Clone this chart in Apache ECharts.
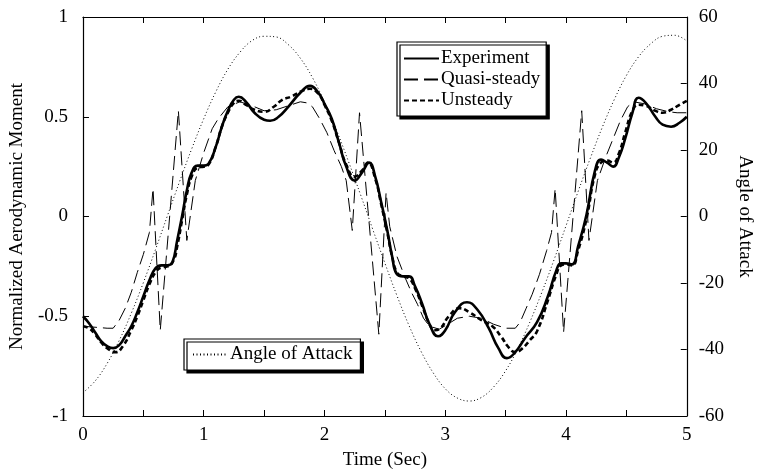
<!DOCTYPE html>
<html>
<head>
<meta charset="utf-8">
<script src="https://cdn.jsdelivr.net/npm/echarts@6/dist/echarts.min.js"></script>
<style>html,body{margin:0;padding:0;background:#fff}#c{width:762px;height:475px}</style>
</head>
<body>
<div id="c"></div>
<script>
// ---- data ----
const expTime = [0,0.05,0.1,0.15,0.2,0.25,0.3,0.35,0.4,0.45,0.5,0.55,0.6,0.65,0.7,0.74,0.78,0.82,0.86,0.9,0.95,1.0,1.04,1.1,1.15,1.2,1.25,1.29,1.35,1.42,1.5,1.55,1.62,1.7,1.8,1.88,1.95,2.0,2.06,2.12,2.18,2.25,2.31,2.37,2.42,2.47,2.52,2.56,2.6,2.65,2.7,2.75,2.81,2.87,2.94,3.0,3.08,3.18,3.27,3.36,3.44,3.51,3.58,3.66,3.76,3.85,3.92,3.96,4.0,4.05,4.1,4.17,4.24,4.29,4.34,4.39,4.44,4.49,4.55,4.6,4.66,4.74,4.8,4.87,4.94,5.0];
const expVal = [-0.50,-0.535,-0.58,-0.625,-0.65,-0.66,-0.645,-0.60,-0.55,-0.48,-0.40,-0.32,-0.26,-0.245,-0.245,-0.23,-0.12,0.0,0.13,0.22,0.255,0.255,0.265,0.35,0.45,0.53,0.585,0.60,0.575,0.52,0.485,0.48,0.50,0.55,0.62,0.655,0.62,0.565,0.49,0.37,0.25,0.18,0.22,0.27,0.20,0.07,-0.07,-0.20,-0.29,-0.30,-0.30,-0.35,-0.44,-0.54,-0.60,-0.57,-0.48,-0.43,-0.47,-0.56,-0.66,-0.71,-0.68,-0.61,-0.53,-0.40,-0.27,-0.235,-0.235,-0.24,-0.15,0.01,0.23,0.285,0.27,0.25,0.30,0.39,0.52,0.595,0.57,0.50,0.46,0.45,0.47,0.50];

const unsTime = [0,0.05,0.1,0.15,0.2,0.27,0.33,0.4,0.45,0.5,0.55,0.6,0.65,0.7,0.75,0.78,0.82,0.86,0.9,0.95,1.0,1.04,1.1,1.15,1.2,1.25,1.29,1.35,1.42,1.5,1.58,1.65,1.72,1.8,1.88,1.95,2.0,2.06,2.12,2.18,2.25,2.31,2.36,2.42,2.47,2.52,2.56,2.6,2.65,2.7,2.75,2.81,2.87,2.91,2.96,3.03,3.12,3.2,3.3,3.39,3.46,3.53,3.58,3.64,3.7,3.76,3.85,3.92,3.96,4.0,4.05,4.1,4.17,4.24,4.29,4.34,4.39,4.44,4.49,4.55,4.6,4.66,4.74,4.8,4.87,4.94,5.0];
const unsVal = [-0.55,-0.56,-0.59,-0.63,-0.66,-0.68,-0.65,-0.57,-0.50,-0.42,-0.34,-0.28,-0.255,-0.25,-0.22,-0.15,-0.02,0.11,0.20,0.245,0.25,0.26,0.35,0.45,0.52,0.57,0.58,0.56,0.535,0.525,0.55,0.585,0.60,0.625,0.64,0.615,0.56,0.48,0.37,0.26,0.20,0.23,0.27,0.19,0.06,-0.08,-0.20,-0.28,-0.30,-0.31,-0.36,-0.45,-0.54,-0.57,-0.56,-0.50,-0.46,-0.48,-0.52,-0.55,-0.60,-0.66,-0.68,-0.66,-0.62,-0.575,-0.42,-0.29,-0.245,-0.24,-0.245,-0.17,-0.01,0.21,0.27,0.28,0.27,0.32,0.42,0.53,0.56,0.555,0.53,0.52,0.535,0.56,0.58];

const qsTime = [0,0.1,0.2,0.25,0.3,0.35,0.4,0.45,0.5,0.55,0.58,0.64,0.79,0.86,0.93,1.0,1.07,1.12,1.2,1.3,1.4,1.5,1.6,1.7,1.8,1.85,1.9,1.96,2.02,2.08,2.14,2.18,2.23,2.29,2.45,2.51,2.54,2.6,2.67,2.72,2.77,2.82,2.87,2.95,3.02,3.1,3.2,3.3,3.4,3.5,3.58,3.62,3.67,3.72,3.78,3.84,3.88,3.91,3.98,4.13,4.19,4.26,4.33,4.39,4.45,4.51,4.56,4.65,4.75,4.85,4.92,5.0];
const qsVal = [-0.55,-0.555,-0.56,-0.56,-0.52,-0.46,-0.38,-0.28,-0.19,-0.08,0.14,-0.57,0.53,-0.12,0.18,0.32,0.44,0.49,0.55,0.575,0.555,0.53,0.535,0.555,0.575,0.57,0.55,0.49,0.42,0.33,0.25,0.18,-0.07,0.52,-0.59,0.12,-0.05,-0.20,-0.31,-0.38,-0.44,-0.51,-0.55,-0.565,-0.54,-0.51,-0.50,-0.51,-0.54,-0.56,-0.56,-0.53,-0.46,-0.39,-0.29,-0.17,-0.08,0.14,-0.58,0.53,-0.12,0.18,0.30,0.39,0.48,0.55,0.575,0.565,0.54,0.525,0.52,0.52];

const aoaTime = [0,0.1,0.2,0.3,0.4,0.5,0.6,0.7,0.8,0.9,1.0,1.1,1.2,1.3,1.4,1.5,1.6,1.7,1.8,1.9,2.0,2.1,2.2,2.3,2.4,2.5,2.6,2.7,2.8,2.9,3.0,3.1,3.2,3.3,3.4,3.5,3.6,3.7,3.8,3.9,4.0,4.1,4.2,4.3,4.4,4.5,4.6,4.7,4.8,4.9,5.0];
const aoaVal = [-53.0,-49.5,-44.2,-37.3,-29.1,-19.9,-10.0,0.3,10.5,20.3,29.4,37.5,44.3,49.4,52.9,54.2,54.0,51.7,47.6,41.8,34.4,25.9,16.4,6.4,-3.9,-14.0,-23.8,-32.8,-40.6,-47.0,-51.8,-54.6,-55.5,-54.4,-51.3,-46.4,-39.8,-31.8,-22.8,-13.1,-2.8,7.5,17.4,26.8,35.2,42.4,48.0,51.9,54.2,54.5,52.8];

const xTicks = [0,1,2,3,4,5];
const leftTicks = [-1,-0.5,0,0.5,1];
const rightTicks = [-60,-40,-20,0,20,40,60];

const zip = (a,b) => a.map((t,i)=>[t,b[i]]);
const FONT = 'Liberation Serif';
const txt = {color:'#000', fontFamily:FONT, fontSize:19};
const hiddenSymbol = {color:'rgba(0,0,0,0)', borderWidth:0, opacity:0};

const chart = echarts.init(document.getElementById('c'), null, {renderer:'canvas'});
chart.setOption({
  animation:false,
  backgroundColor:'#fff',
  grid:{left:82, right:72, top:17, bottom:48, containLabel:false},
  xAxis:[
    {type:'value', min:xTicks[0], max:xTicks[xTicks.length-1], interval:0.5, position:'bottom',
     name:'Time (Sec)', nameLocation:'middle', nameGap:35, nameTextStyle:txt,
     axisLine:{show:true, onZero:false, lineStyle:{color:'#000', width:1.2}},
     axisTick:{show:true, inside:true, length:6, lineStyle:{color:'#000'}},
     axisLabel:Object.assign({margin:10, formatter:v=>Number.isInteger(v)?String(v):''}, txt),
     splitLine:{show:false}},
    {type:'value', min:xTicks[0], max:xTicks[xTicks.length-1], interval:0.5, position:'top',
     axisLine:{show:true, onZero:false, lineStyle:{color:'#000', width:1.2}},
     axisTick:{show:true, inside:true, length:6, lineStyle:{color:'#000'}},
     axisLabel:{show:false}, splitLine:{show:false}}
  ],
  yAxis:[
    {type:'value', min:leftTicks[0], max:leftTicks[leftTicks.length-1], interval:0.5, position:'left',
     name:'Normalized Aerodynamic Moment', nameLocation:'middle', nameGap:52, nameTextStyle:txt,
     axisLine:{show:true, onZero:false, lineStyle:{color:'#000', width:1.2}},
     axisTick:{show:true, inside:true, length:6, lineStyle:{color:'#000'}},
     axisLabel:Object.assign({margin:15}, txt), splitLine:{show:false}},
    {type:'value', min:rightTicks[0], max:rightTicks[rightTicks.length-1], interval:20, position:'right',
     name:'Angle of Attack', nameLocation:'middle', nameGap:40, nameRotate:-90, nameTextStyle:txt,
     axisLine:{show:true, onZero:false, lineStyle:{color:'#000', width:1.2}},
     axisTick:{show:true, inside:true, length:6, lineStyle:{color:'#000'}},
     axisLabel:Object.assign({margin:12}, txt), splitLine:{show:false}}
  ],
  legend:[
    {data:['Experiment','Quasi-steady','Unsteady'], orient:'vertical', left:397, top:42,
     padding:[7,6,6,6], itemGap:2, itemWidth:35, itemHeight:16,
     itemStyle:hiddenSymbol,
     backgroundColor:'#fff', borderColor:'#000', borderWidth:1.2,
     shadowColor:'#000', shadowBlur:0, shadowOffsetX:3, shadowOffsetY:3,
     textStyle:Object.assign({padding:[0,0,0,-3]}, txt)},
    {data:['Angle of Attack'], orient:'vertical', left:184, top:339,
     padding:[6,8,6,8], itemWidth:35, itemHeight:16,
     itemStyle:hiddenSymbol,
     backgroundColor:'#fff', borderColor:'#000', borderWidth:1.2,
     shadowColor:'#000', shadowBlur:0, shadowOffsetX:3, shadowOffsetY:3,
     textStyle:Object.assign({padding:[0,0,0,-3]}, txt)}
  ],
  series:[
    {name:'Angle of Attack', type:'line', yAxisIndex:1, data:zip(aoaTime, aoaVal), smooth:0.4,
     symbol:'none', lineStyle:{color:'#000', width:1, type:[1,2.5]}, itemStyle:{color:'#000'}, z:1},
    {name:'Quasi-steady', type:'line', yAxisIndex:0, data:zip(qsTime, qsVal), smooth:false,
     symbol:'none', lineStyle:{color:'#000', width:1, type:[14,6]}, itemStyle:{color:'#000'}, z:2},
    {name:'Unsteady', type:'line', yAxisIndex:0, data:zip(unsTime, unsVal), smooth:0.5,
     symbol:'none', lineStyle:{color:'#000', width:2.6, type:[5,3]}, itemStyle:{color:'#000'}, z:3},
    {name:'Experiment', type:'line', yAxisIndex:0, data:zip(expTime, expVal), smooth:0.5,
     symbol:'none', lineStyle:{color:'#000', width:2.6}, itemStyle:{color:'#000'}, z:4}
  ]
});
</script>
</body>
</html>
